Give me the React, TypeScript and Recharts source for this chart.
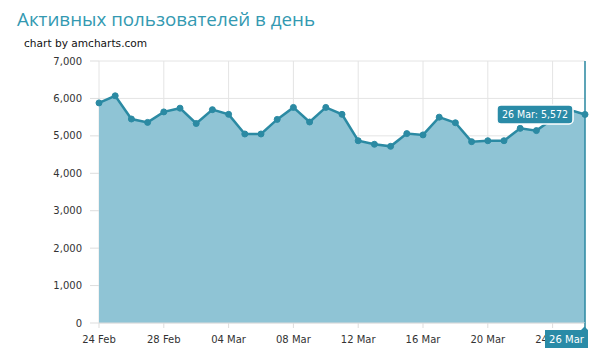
import React from 'react'
import {
  AreaChart,
  Area,
  XAxis,
  YAxis,
  CartesianGrid,
  ReferenceLine,
  ReferenceDot,
} from 'recharts'

const dates = [
  '24 Feb', '25 Feb', '26 Feb', '27 Feb', '28 Feb',
  '01 Mar', '02 Mar', '03 Mar', '04 Mar', '05 Mar', '06 Mar', '07 Mar', '08 Mar',
  '09 Mar', '10 Mar', '11 Mar', '12 Mar', '13 Mar', '14 Mar', '15 Mar', '16 Mar',
  '17 Mar', '18 Mar', '19 Mar', '20 Mar', '21 Mar', '22 Mar', '23 Mar', '24 Mar',
  '25 Mar', '26 Mar',
]

const users = [
  5880, 6070, 5450, 5360, 5640,
  5740, 5330, 5700, 5575, 5050, 5050, 5440, 5760,
  5370, 5760, 5575, 4870, 4775, 4720, 5060, 5025,
  5500, 5350, 4845, 4870, 4870, 5200, 5140, 5450,
  5700, 5572,
]

const yTicks = [0, 1000, 2000, 3000, 4000, 5000, 6000, 7000]

const data = dates.map((date, i) => ({ date, users: users[i] }))

const lastIndex = dates.length - 1
const cursorDate = dates[lastIndex]
const cursorValue = users[lastIndex]

// every 4th day gets a label, plus the cursor date (drawn as a box)
const xTicks = [...dates.filter((_, i) => i % 4 === 0), cursorDate]

const LINE = '#2b8aa3'
const FILL = '#8fc4d5'
const BOX = '#2a8ba7'
const tickFont = { fontFamily: 'DejaVu Sans', fontSize: 10, fill: '#333' }

const fmt = (v: number) => v.toLocaleString('en-US')

const XTick = (props: any) => {
  const { x, y, payload } = props
  if (payload.value !== cursorDate) {
    return (
      <text x={x} y={y} dy="0.71em" textAnchor="middle" style={tickFont} fill="#333">
        {payload.value}
      </text>
    )
  }
  const top = y - 13
  return (
    <g>
      <line x1={x} y1={top} x2={x} y2={y - 6} stroke={LINE} strokeWidth={1.5} />
      <path
        d={`M${x - 40},${y - 6} L${x - 4},${y - 6} L${x - 0.5},${y - 9.5} L${x + 3},${y - 6} L${x + 3},${y + 12} L${x - 40},${y + 12} Z`}
        fill={BOX}
      />
      <text
        x={x - 18.5}
        y={y + 7}
        textAnchor="middle"
        fill="#fff"
        style={{ fontFamily: 'DejaVu Sans', fontSize: 10 }}
      >
        {payload.value}
      </text>
    </g>
  )
}

const BalloonShape = (props: any) => {
  const { cx, cy } = props
  return (
    <g>
      <rect x={cx - 88} y={cy - 9.5} width={76} height={19} rx={4} fill={BOX} stroke="#fff" strokeWidth={1.5} />
      <text
        x={cx - 50}
        y={cy + 4}
        textAnchor="middle"
        fill="#fff"
        style={{ fontFamily: 'DejaVu Sans Condensed', fontSize: 10.5 }}
      >
        {`${cursorDate}: ${fmt(cursorValue)}`}
      </text>
    </g>
  )
}

export default function App() {
  return (
    <div style={{ position: 'absolute', left: 0, top: 0, width: 600, height: 358, background: '#fff' }}>
      <svg width={600} height={58} style={{ position: 'absolute', left: 0, top: 0 }}>
        <text x={17} y={26} fill="#3399b1" style={{ fontFamily: 'Open Sans', fontSize: 18.8 }}>
          Активных пользователей в день
        </text>
        <text x={24} y={47} fill="#111" style={{ fontFamily: 'DejaVu Sans', fontSize: 10.6 }}>
          chart by amcharts.com
        </text>
      </svg>
      <div style={{ position: 'absolute', left: 0, top: 0 }}>
        <AreaChart width={600} height={358} data={data} margin={{ top: 61, right: 15, bottom: 0, left: 0 }}>
          <CartesianGrid stroke="#e4e4e4" />
          <XAxis
            dataKey="date"
            height={35}
            ticks={xTicks}
            interval={0}
            tick={XTick}
            tickSize={5}
            tickMargin={8}
            tickLine={{ stroke: '#ddd' }}
            axisLine={{ stroke: '#ddd' }}
          />
          <YAxis
            width={99}
            domain={[0, 7000]}
            ticks={yTicks}
            tickFormatter={fmt}
            tick={tickFont}
            tickSize={9}
            tickMargin={8}
            tickLine={{ stroke: '#ddd' }}
            axisLine={false}
          />
          <Area
            type="linear"
            dataKey="users"
            stroke={LINE}
            strokeWidth={2.5}
            fill={FILL}
            fillOpacity={1}
            dot={{ r: 3, fill: LINE, stroke: LINE, strokeWidth: 1 }}
            activeDot={false}
            isAnimationActive={false}
          />
          <ReferenceLine x={cursorDate} stroke={LINE} strokeWidth={1.5} />
          <ReferenceDot x={cursorDate} y={cursorValue} shape={BalloonShape} />
        </AreaChart>
      </div>
    </div>
  )
}
